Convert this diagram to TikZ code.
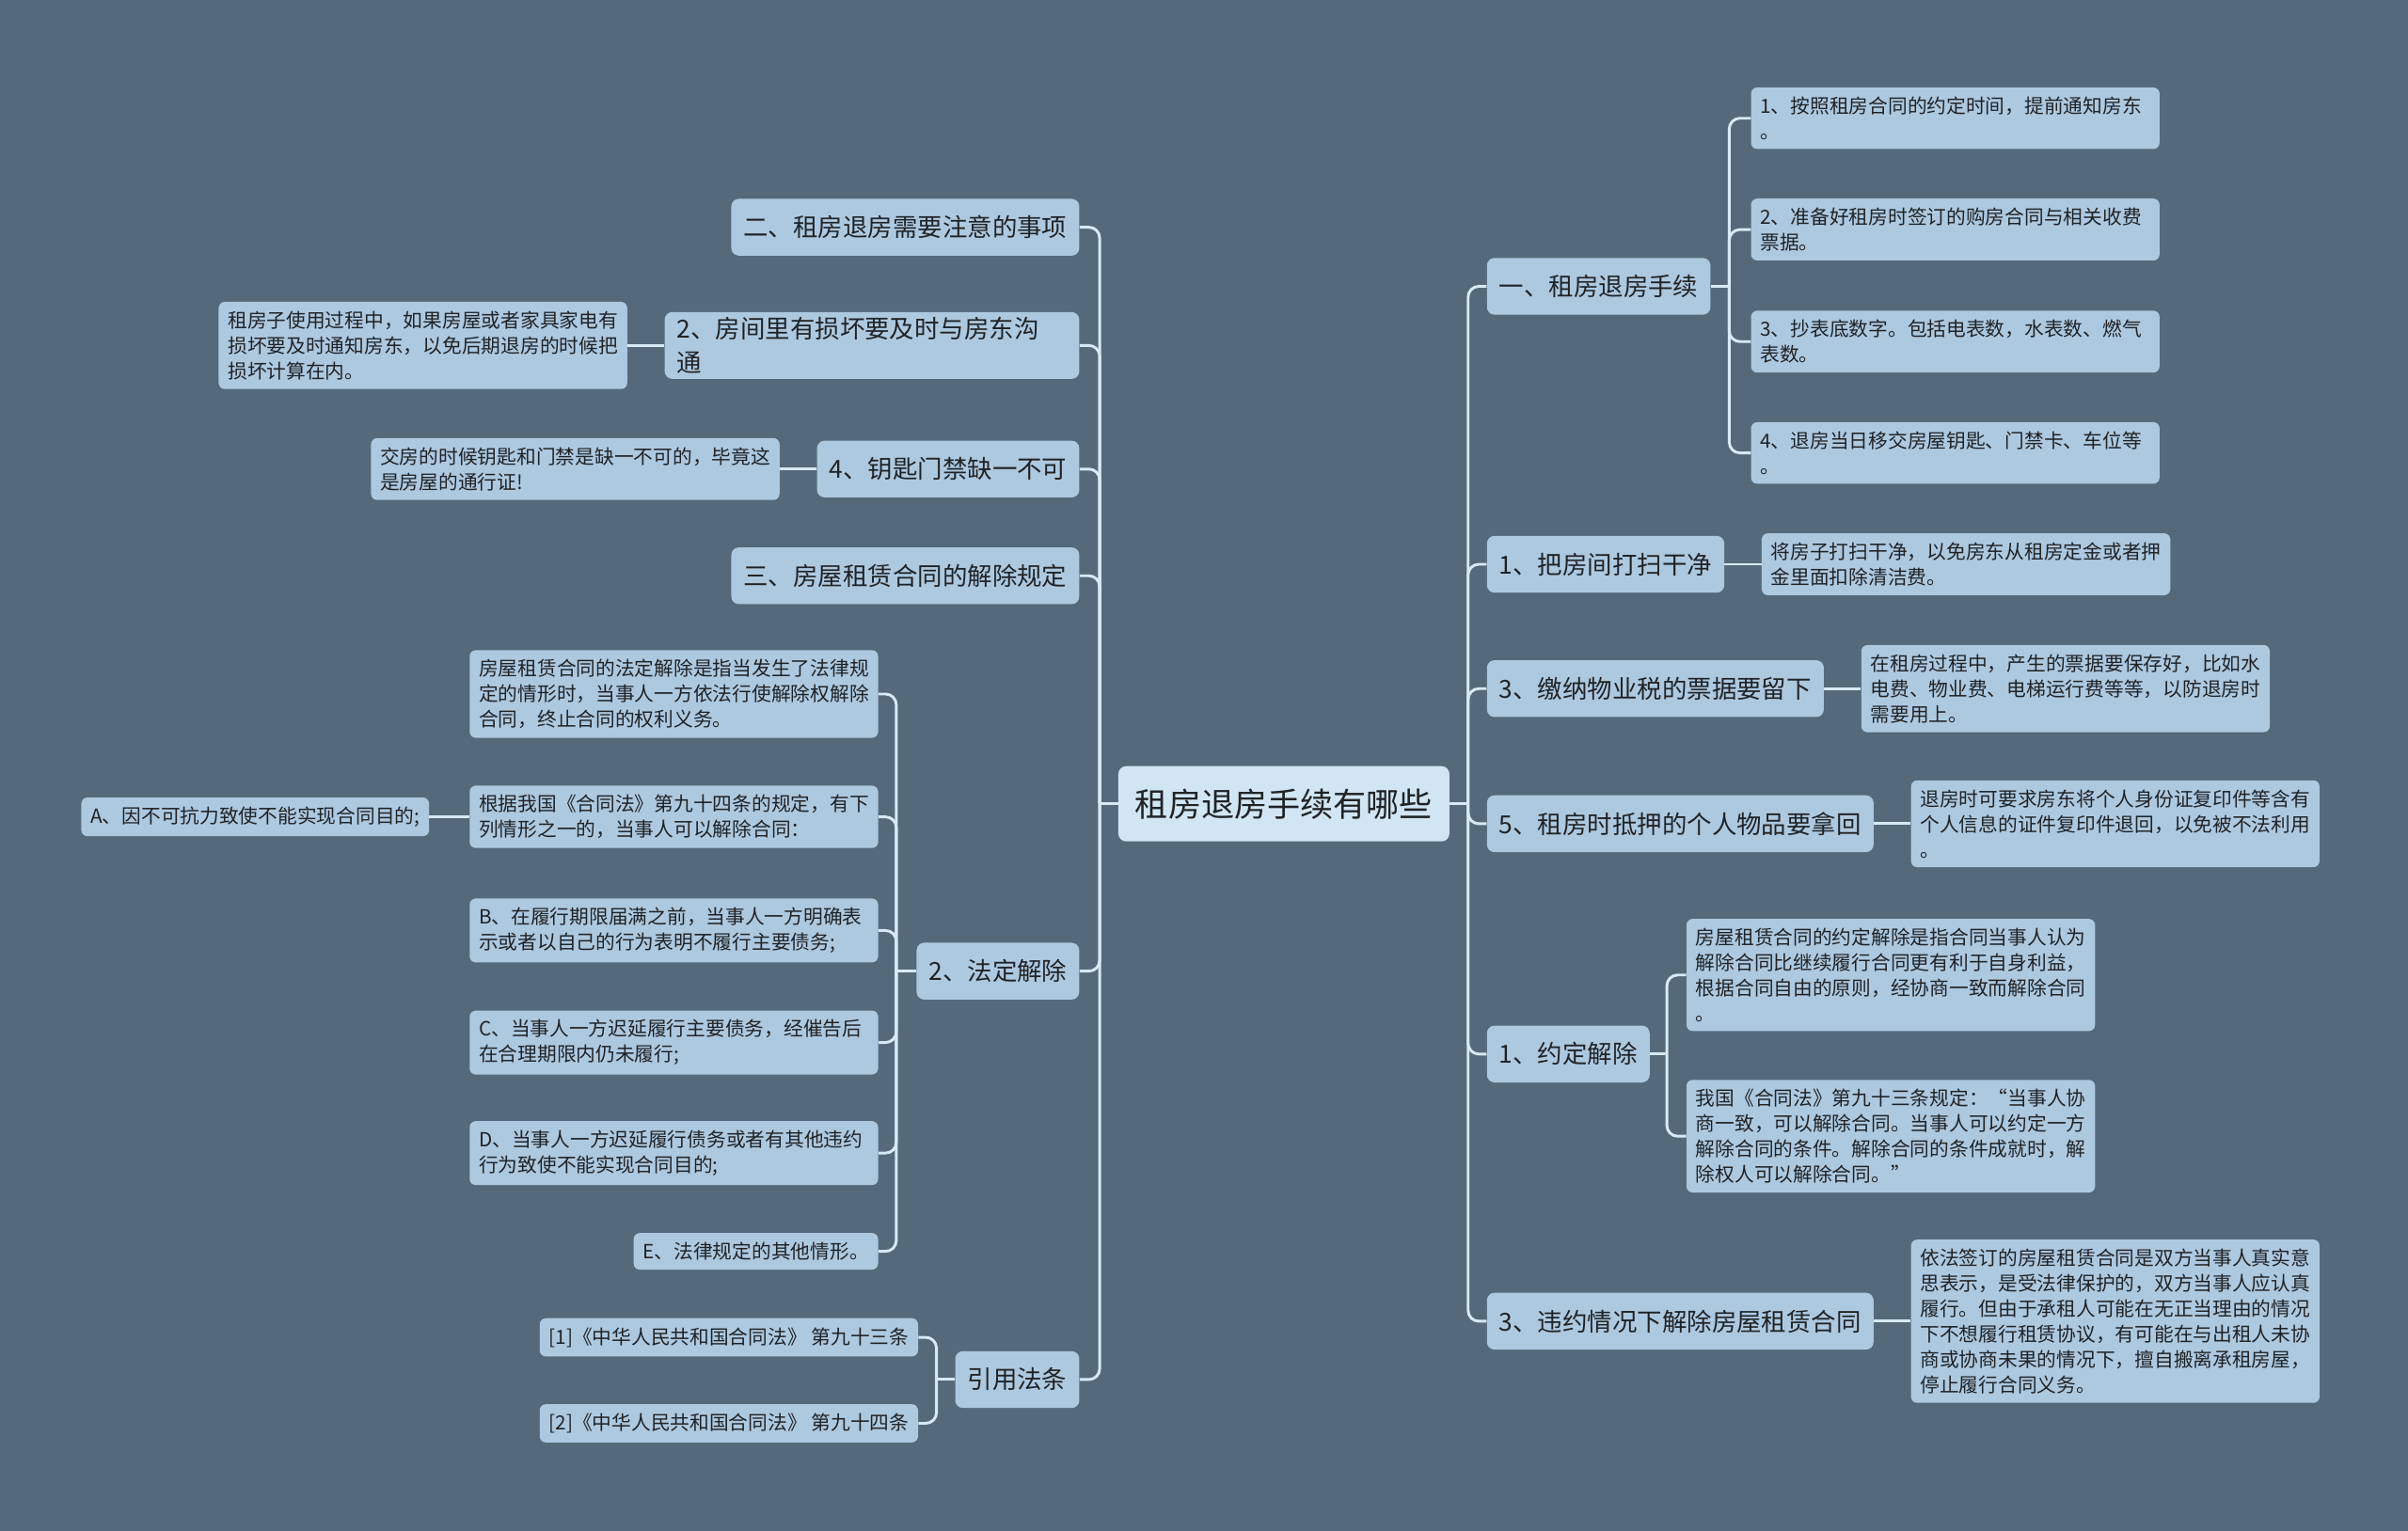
\documentclass[tikz,border=0pt]{standalone}
\usepackage{fontspec}
\setmainfont{Noto Sans CJK SC}
\usetikzlibrary{positioning}
\definecolor{slate}{HTML}{546A7A}
\definecolor{topicfill}{HTML}{ADC9E0}
\definecolor{rootfill}{HTML}{D1E5F2}
\definecolor{linkcol}{HTML}{D6EAF5}
\definecolor{ink}{HTML}{1F2326}

\begin{document}
\begin{tikzpicture}[x=1pt, y=-1pt,
  root/.style={fill=rootfill, rounded corners=5pt, text=ink, minimum height=49pt,
               inner xsep=11pt, font=\fontsize{21.5}{26}\selectfont},
  topic/.style={fill=topicfill, rounded corners=5pt, text=ink, minimum height=37pt,
                inner xsep=8pt, font=\fontsize{16.2}{22}\selectfont},
  leaf/.style={fill=topicfill, rounded corners=4pt, text=ink, inner xsep=6pt,
               inner ysep=6pt, font=\fontsize{12.7}{16.5}\selectfont},
  wide/.style={leaf, text width=254pt, align=left},
  link/.style={linkcol, line width=1.8pt, rounded corners=7pt}
]
  % Background
  \fill[slate] (0,0) rectangle (1568,997);

  % Root
  \node[root] (root) at (836,523.5) {租房退房手续有哪些};

  % Right branches
  \node[topic, anchor=west] (r1) at (968,186.5) {一、租房退房手续};
  \node[topic, anchor=west] (r2) at (968,367.5) {1、把房间打扫干净};
  \node[topic, anchor=west] (r3) at (968,448.5) {3、缴纳物业税的票据要留下};
  \node[topic, anchor=west] (r4) at (968,536.5) {5、租房时抵押的个人物品要拿回};
  \node[topic, anchor=west] (r5) at (968,686.5) {1、约定解除};
  \node[topic, anchor=west] (r6) at (968,860.5) {3、违约情况下解除房屋租赁合同};

  \node[wide, anchor=west] (r1a) at (1140,77) {1、按照租房合同的约定时间，提前通知房东\\。};
  \node[wide, anchor=west] (r1b) at (1140,149.5) {2、准备好租房时签订的购房合同与相关收费\\票据。};
  \node[wide, anchor=west] (r1c) at (1140,222.5) {3、抄表底数字。包括电表数，水表数、燃气\\表数。};
  \node[wide, anchor=west] (r1d) at (1140,295) {4、退房当日移交房屋钥匙、门禁卡、车位等\\。};
  \node[wide, right=24pt of r2] (r2a) {将房子打扫干净，以免房东从租房定金或者押\\金里面扣除清洁费。};
  \node[wide, right=24pt of r3] (r3a) {在租房过程中，产生的票据要保存好，比如水\\电费、物业费、电梯运行费等等，以防退房时\\需要用上。};
  \node[wide, right=24pt of r4] (r4a) {退房时可要求房东将个人身份证复印件等含有\\个人信息的证件复印件退回，以免被不法利用\\。};
  \node[wide, anchor=west] (r5a) at (1098,635) {房屋租赁合同的约定解除是指合同当事人认为\\解除合同比继续履行合同更有利于自身利益，\\根据合同自由的原则，经协商一致而解除合同\\。};
  \node[wide, anchor=west] (r5b) at (1098,740) {我国《合同法》第九十三条规定：“当事人协\\商一致，可以解除合同。当事人可以约定一方\\解除合同的条件。解除合同的条件成就时，解\\除权人可以解除合同。”};
  \node[wide, right=24pt of r6] (r6a) {依法签订的房屋租赁合同是双方当事人真实意\\思表示，是受法律保护的，双方当事人应认真\\履行。但由于承租人可能在无正当理由的情况\\下不想履行租赁协议，有可能在与出租人未协\\商或协商未果的情况下，擅自搬离承租房屋，\\停止履行合同义务。};

  % Left branches
  \node[topic, anchor=east] (l1) at (703,148) {二、租房退房需要注意的事项};
  \node[topic, anchor=east, text width=254pt, align=left] (l2) at (703,225) {2、房间里有损坏要及时与房东沟\\通};
  \node[topic, anchor=east] (l3) at (703,305.5) {4、钥匙门禁缺一不可};
  \node[topic, anchor=east] (l4) at (703,375) {三、房屋租赁合同的解除规定};
  \node[topic, anchor=east] (l5) at (703,632.5) {2、法定解除};
  \node[topic, anchor=east] (l6) at (703,898.5) {引用法条};

  \node[wide, left=24pt of l2] (l2a) {租房子使用过程中，如果房屋或者家具家电有\\损坏要及时通知房东，以免后期退房的时候把\\损坏计算在内。};
  \node[wide, left=24pt of l3] (l3a) {交房的时候钥匙和门禁是缺一不可的，毕竟这\\是房屋的通行证!};
  \node[wide, anchor=east] (l5a) at (572,452) {房屋租赁合同的法定解除是指当发生了法律规\\定的情形时，当事人一方依法行使解除权解除\\合同，终止合同的权利义务。};
  \node[wide, anchor=east] (l5b) at (572,532) {根据我国《合同法》第九十四条的规定，有下\\列情形之一的，当事人可以解除合同：};
  \node[wide, anchor=east] (l5c) at (572,606) {B、在履行期限届满之前，当事人一方明确表\\示或者以自己的行为表明不履行主要债务;};
  \node[wide, anchor=east] (l5d) at (572,679) {C、当事人一方迟延履行主要债务，经催告后\\在合理期限内仍未履行;};
  \node[wide, anchor=east] (l5e) at (572,751) {D、当事人一方迟延履行债务或者有其他违约\\行为致使不能实现合同目的;};
  \node[leaf, anchor=east] (l5f) at (572,815) {E、法律规定的其他情形。};
  \node[leaf, left=26pt of l5b] (l5ba) {A、因不可抗力致使不能实现合同目的;};
  \node[leaf, anchor=east] (l6a) at (598,871) {[1]《中华人民共和国合同法》 第九十三条};
  \node[leaf, anchor=east] (l6b) at (598,927) {[2]《中华人民共和国合同法》 第九十四条};

  % Trunks
  \coordinate[right=12pt of root] (rt);
  \coordinate[left=12pt of root] (lt);
  \coordinate[right=12pt of r1] (r1t);
  \coordinate[right=11pt of r5] (r5t);
  \coordinate[left=13pt of l5] (l5t);
  \coordinate[left=12pt of l6] (l6t);

  % Links
  \draw[link] (root.east) -- (rt);
  \foreach \n in {r1,r2,r3,r4,r5,r6}
    \draw[link] (rt) |- (\n.west);
  \draw[link] (root.west) -- (lt);
  \foreach \n in {l1,l2,l3,l4,l5,l6}
    \draw[link] (lt) |- (\n.east);

  \draw[link] (r1.east) -- (r1t);
  \foreach \n in {r1a,r1b,r1c,r1d}
    \draw[link] (r1t) |- (\n.west);
  \draw[link] (r5.east) -- (r5t);
  \foreach \n in {r5a,r5b}
    \draw[link] (r5t) |- (\n.west);
  \draw[link] (r2.east) -- (r2a.west);
  \draw[link] (r3.east) -- (r3a.west);
  \draw[link] (r4.east) -- (r4a.west);
  \draw[link] (r6.east) -- (r6a.west);

  \draw[link] (l2.west) -- (l2a.east);
  \draw[link] (l3.west) -- (l3a.east);
  \draw[link] (l5.west) -- (l5t);
  \foreach \n in {l5a,l5b,l5c,l5d,l5e,l5f}
    \draw[link] (l5t) |- (\n.east);
  \draw[link] (l5b.west) -- (l5ba.east);
  \draw[link] (l6.west) -- (l6t);
  \foreach \n in {l6a,l6b}
    \draw[link] (l6t) |- (\n.east);
\end{tikzpicture}
\end{document}
